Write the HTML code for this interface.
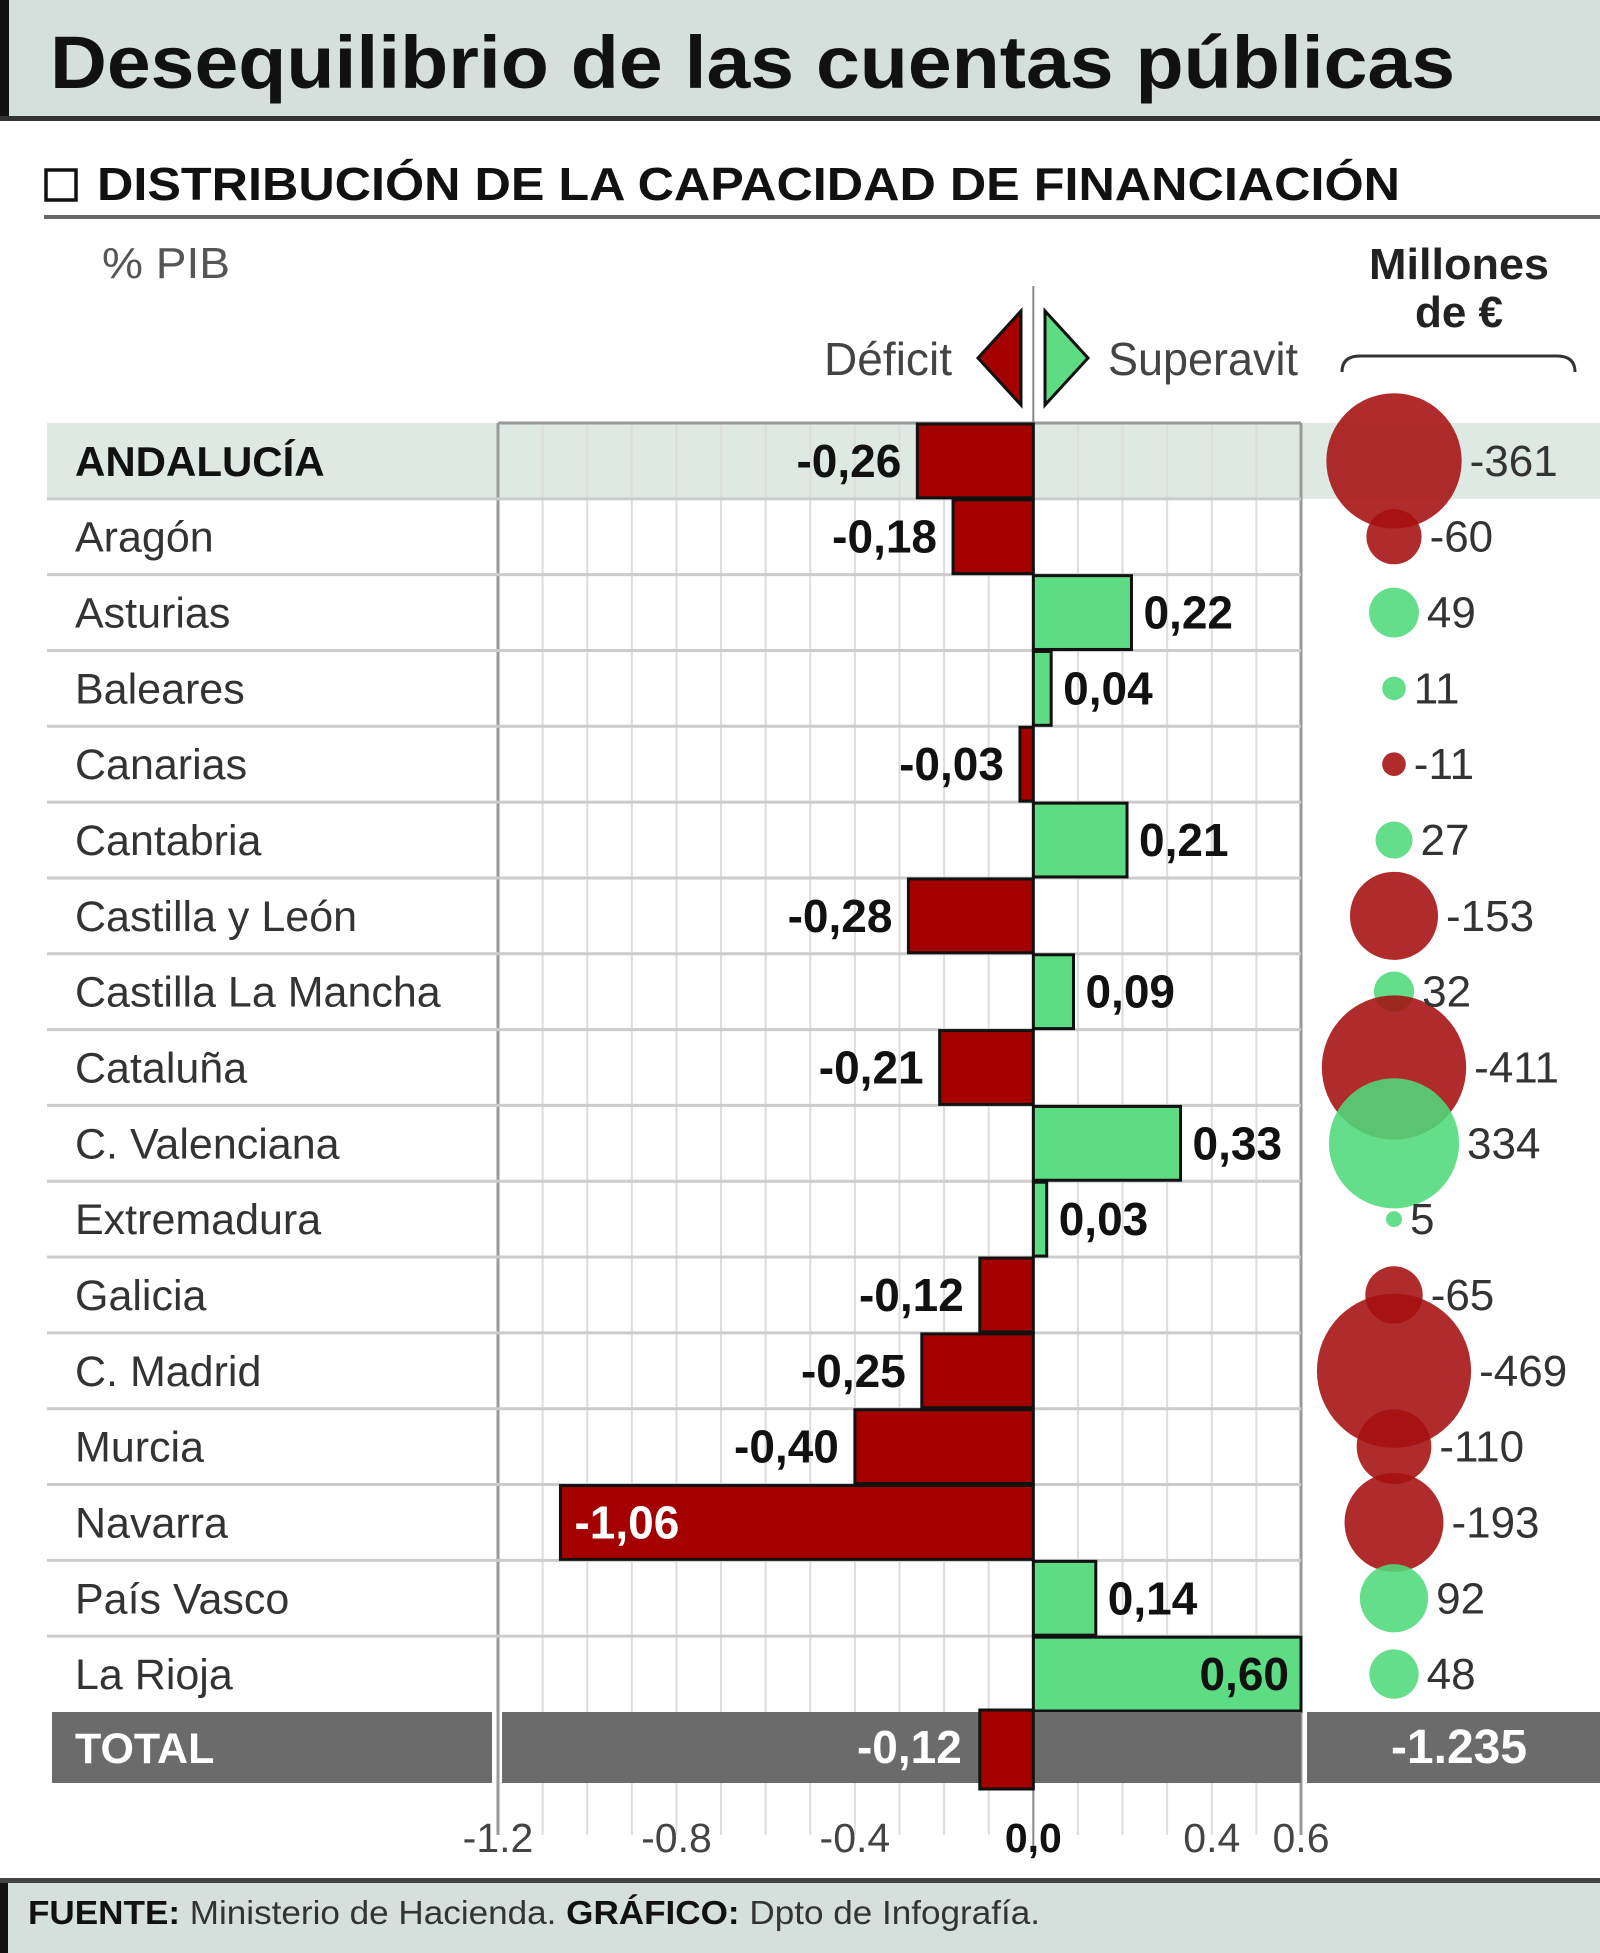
<!DOCTYPE html>
<html><head><meta charset="utf-8"><style>
html,body{margin:0;padding:0;background:#fff}
svg{display:block}
text{font-family:"Liberation Sans",sans-serif}
</style></head><body>
<svg id="chart" width="1600" height="1953" viewBox="0 0 1600 1953" xmlns="http://www.w3.org/2000/svg">
<rect x="0" y="0" width="1600" height="118" fill="#d5e0dd"/>
<rect x="0" y="0" width="9" height="118" fill="#111"/>
<rect x="0" y="116" width="1600" height="5" fill="#333"/>
<text x="50" y="88" font-size="74" font-weight="bold" fill="#111" textLength="1405" lengthAdjust="spacingAndGlyphs">Desequilibrio de las cuentas públicas</text>
<rect x="46" y="170" width="30" height="30" fill="none" stroke="#111" stroke-width="3.5"/>
<text x="97" y="200" font-size="46" font-weight="bold" fill="#111" textLength="1303" lengthAdjust="spacingAndGlyphs">DISTRIBUCIÓN DE LA CAPACIDAD DE FINANCIACIÓN</text>
<rect x="44" y="215" width="1556" height="4" fill="#666"/>
<text x="102" y="278" font-size="44" fill="#555" textLength="128" lengthAdjust="spacingAndGlyphs">% PIB</text>
<text x="1459" y="279" font-size="44" font-weight="bold" fill="#222" text-anchor="middle" textLength="180" lengthAdjust="spacingAndGlyphs">Millones</text>
<text x="1459" y="327" font-size="44" font-weight="bold" fill="#222" text-anchor="middle">de €</text>
<path d="M1342,372 Q1342,356 1360,356 L1557,356 Q1575,356 1575,372" fill="none" stroke="#333" stroke-width="3"/>
<text x="952" y="375" font-size="46" fill="#444" text-anchor="end" textLength="128" lengthAdjust="spacingAndGlyphs">Déficit</text>
<text x="1108" y="375" font-size="46" fill="#444" textLength="190" lengthAdjust="spacingAndGlyphs">Superavit</text>
<path d="M1021,311 L1021,405 L978,358 Z" fill="#a50000" stroke="#111" stroke-width="3"/>
<path d="M1045,311 L1045,405 L1088,358 Z" fill="#5ddc84" stroke="#111" stroke-width="3"/>
<g id="plot"></g>
<rect x="0" y="1878" width="1600" height="5" fill="#444"/>
<rect x="0" y="1883" width="1600" height="70" fill="#d5e0dd"/>
<rect x="0" y="1883" width="8" height="70" fill="#111"/>
<text x="28" y="1924" font-size="33" fill="#333" textLength="1012" lengthAdjust="spacingAndGlyphs"><tspan font-weight="bold" fill="#111">FUENTE:</tspan> Ministerio de Hacienda. <tspan font-weight="bold" fill="#111">GRÁFICO:</tspan> Dpto de Infografía.</text>
</svg>
<script>
const regions = ["ANDALUCÍA","Aragón","Asturias","Baleares","Canarias","Cantabria","Castilla y León","Castilla La Mancha","Cataluña","C. Valenciana","Extremadura","Galicia","C. Madrid","Murcia","Navarra","País Vasco","La Rioja"];
const pibValues = [-0.26,-0.18,0.22,0.04,-0.03,0.21,-0.28,0.09,-0.21,0.33,0.03,-0.12,-0.25,-0.40,-1.06,0.14,0.60];
const millions = [-361,-60,49,11,-11,27,-153,32,-411,334,5,-65,-469,-110,-193,92,48];
const totalPib = -0.12;
const totalMillions = -1235;
const xTicks = [-1.2,-0.8,-0.4,0.0,0.4,0.6];
const xTickLabels = ["-1.2","-0.8","-0.4","0,0","0.4","0.6"];

const NS="http://www.w3.org/2000/svg";
const g=document.getElementById('plot');
const X0=498, X1=1301, XMIN=-1.2, XMAX=0.6;
const xs=v=>X0+(v-XMIN)/(XMAX-XMIN)*(X1-X0);
const TOP=423, RH=(1712-423)/regions.length;
const ys=i=>TOP+i*RH;
const rs=v=>3.56*Math.sqrt(Math.abs(v));
const CX=1394;
const fmt=v=>(v<0?"-":"")+Math.abs(v).toFixed(2).replace(".",",");
function mk(t,a,txt){const e=document.createElementNS(NS,t);for(const k in a)e.setAttribute(k,a[k]);if(txt!==undefined)e.textContent=txt;g.appendChild(e);return e;}

let e=mk('rect',{x:47,y:ys(0),width:1553,height:RH,fill:'#dde9e2'});


for(let k=-12;k<=6;k++){
  const v=k/10;
  e=mk('line',{x1:xs(v),x2:xs(v),y1:ys(0),y2:1835,stroke:(k===-12||k===6)?'#999':'#ddd','stroke-width':(k===-12||k===6)?3:2});
  
  
}
for(let i=1;i<regions.length;i++){
  e=mk('line',{x1:47,x2:1301,y1:ys(i),y2:ys(i),stroke:'#ccc','stroke-width':3});
  
  
}
e=mk('line',{x1:498,x2:1301,y1:ys(0),y2:ys(0),stroke:'#999','stroke-width':3});


e=mk('line',{x1:xs(0),x2:xs(0),y1:286,y2:1850,stroke:'#888','stroke-width':2});



regions.forEach((r,i)=>{
  const cy=ys(i)+RH/2, m=millions[i], rad=rs(m);
  const c=mk('circle',{cx:CX,cy:cy,r:rad,fill:m<0?'#a50f0f':'#4fd97a','fill-opacity':0.88});
  
  
});

regions.forEach((r,i)=>{
  const y=ys(i), cy=y+RH/2, v=pibValues[i];
  const lab=mk('text',{x:75,y:cy+15,'font-size':i===0?42:43,'font-weight':i===0?'bold':'normal',fill:i===0?'#111':'#333'},r);
  
  
  const x0=xs(Math.min(0,v)), w=Math.abs(xs(v)-xs(0));
  const b=mk('rect',{x:x0,y:y+1,width:w,height:RH-2,fill:v<0?'#a50000':'#5ddc84',stroke:'#111','stroke-width':3});
  
  
  let tx,anchor,col='#111';
  if(v<-0.8){tx=xs(v)+14;anchor='start';col='#fff';}
  else if(v>0.5){tx=xs(v)-12;anchor='end';}
  else if(v<0){tx=xs(v)-16;anchor='end';}
  else {tx=xs(v)+12;anchor='start';}
  const t=mk('text',{x:tx,y:cy+16,'font-size':46,'font-weight':'bold',fill:col,'text-anchor':anchor},fmt(v));
  
  
  const m=millions[i];
  const mt=mk('text',{x:CX+rs(m)+8,y:cy+15,'font-size':44,fill:'#333'},String(m));
  
  
});

const ty=1712, th=71;
[[52,440],[502,799],[1307,293]].forEach(([x,w],k)=>{
  const r=mk('rect',{x:x,y:ty,width:w,height:th,fill:'#6b6b6b'});
  
  
});
e=mk('text',{x:75,y:ty+51,'font-size':43,'font-weight':'bold',fill:'#fff'},'TOTAL');


e=mk('rect',{x:xs(totalPib),y:ty-2,width:xs(0)-xs(totalPib),height:th+8,fill:'#a50000',stroke:'#111','stroke-width':3});


e=mk('text',{x:xs(totalPib)-18,y:ty+51,'font-size':46,'font-weight':'bold',fill:'#fff','text-anchor':'end'},fmt(totalPib));


e=mk('text',{x:1459,y:ty+51,'font-size':48,'font-weight':'bold',fill:'#fff','text-anchor':'middle'},(totalMillions<0?'-':'')+Math.abs(totalMillions).toLocaleString('de-DE'));



xTicks.forEach((v,k)=>{
  const t=mk('text',{x:xs(v),y:1852,'font-size':41,'text-anchor':'middle',fill:v===0?'#111':'#444','font-weight':v===0?'bold':'normal'},xTickLabels[k]);
  
  
});
</script>
</body></html>
